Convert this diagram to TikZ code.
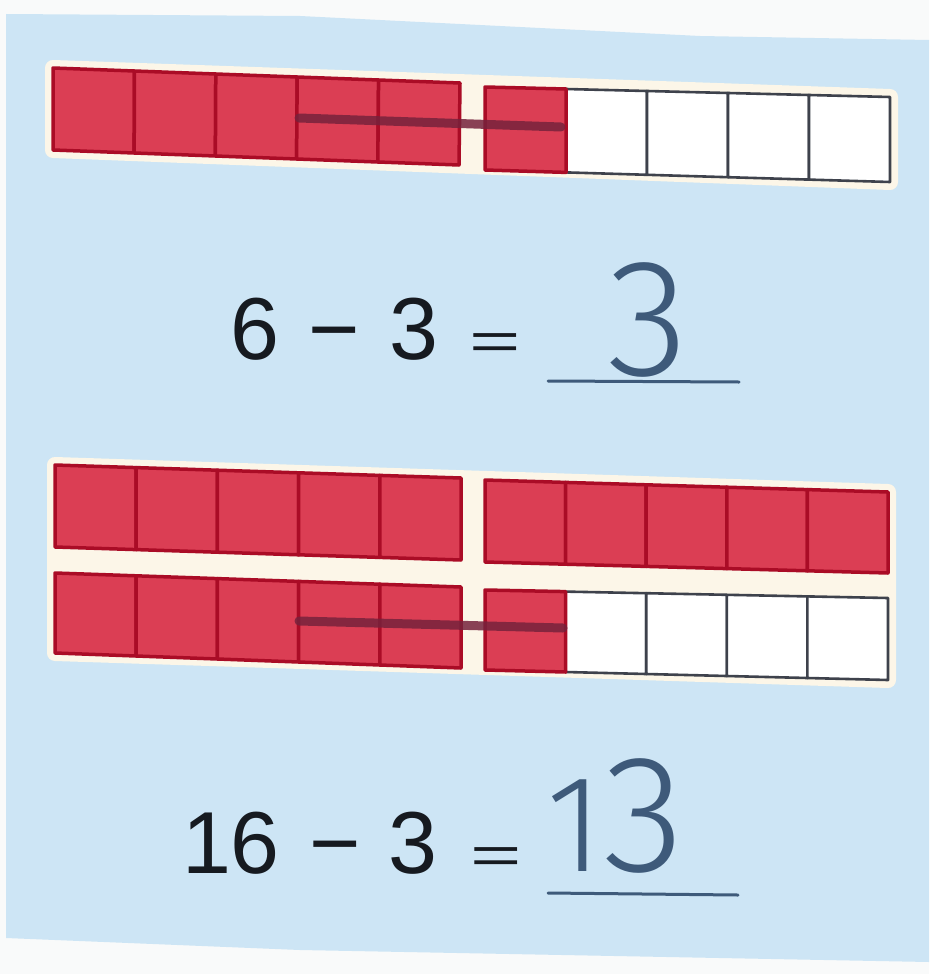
\documentclass[tikz,border=0pt]{standalone}
\usepackage{fontspec}
\setmainfont{Liberation Sans}
\newfontfamily\handfont{Fira Sans Light}
\usetikzlibrary{calc}
\definecolor{bgblue}{RGB}{205,229,245}
\definecolor{paper}{RGB}{249,250,250}
\definecolor{cream}{RGB}{252,246,232}
\definecolor{cellred}{RGB}{219,62,84}
\definecolor{edgered}{RGB}{170,12,38}
\definecolor{edgegray}{RGB}{62,66,76}
\definecolor{strikec}{RGB}{118,34,60}
\definecolor{ink}{RGB}{22,26,32}
\definecolor{pen}{RGB}{62,90,122}
\newcommand{\prfont}{\fontsize{88}{96}\selectfont}
\newcommand{\hwfont}{\handfont\fontsize{167}{170}\selectfont}
\newcommand{\cellblock}[5]{%
  \foreach \i/\s in {#5}{%
    \pgfmathsetmacro{\ta}{\i/5}\pgfmathsetmacro{\tb}{(\i+1)/5}%
    \draw[\s] ($(#1)!\ta!(#2)$) -- ($(#1)!\tb!(#2)$) -- ($(#4)!\tb!(#3)$) -- ($(#4)!\ta!(#3)$) -- cycle;
  }}
\tikzset{
  redcell/.style={fill=cellred, draw=edgered, line width=3.5pt, line join=round},
  whitecell/.style={fill=white, draw=edgegray, line width=2.6pt, line join=round},
  halo/.style={fill=cream, draw=cream, line width=16pt, line join=round},
  strike/.style={draw=strikec, line width=9pt, line cap=round, opacity=0.85},
  pr/.style={font=\prfont, text=ink, inner sep=0pt, anchor=base},
  hw/.style={font=\hwfont, text=pen, inner sep=0pt, anchor=base},
  penline/.style={draw=pen, line width=3pt, line cap=round}
}
\begin{document}
\begin{tikzpicture}[x=1pt,y=-1pt]
\useasboundingbox (0,0) rectangle (929,974);
% photo background
\fill[paper] (0,0) rectangle (929,974);
\fill[bgblue] (6,14) -- (300,16) -- (700,36) -- (929,40) -- (929,962) -- (300,950) -- (6,938) -- cycle;

% corners of the blocks
\coordinate (A1) at (53,68);   \coordinate (A2) at (460,83);  \coordinate (A3) at (459,165); \coordinate (A4) at (53,150);
\coordinate (B1) at (485,87);  \coordinate (B2) at (890,97);  \coordinate (B3) at (890,182); \coordinate (B4) at (485,170);
\coordinate (C1) at (55,465);  \coordinate (C2) at (461,478); \coordinate (C3) at (461,560); \coordinate (C4) at (55,547);
\coordinate (D1) at (485,480); \coordinate (D2) at (888,492); \coordinate (D3) at (888,573); \coordinate (D4) at (485,562);
\coordinate (E1) at (55,573);  \coordinate (E2) at (461,587); \coordinate (E3) at (461,668); \coordinate (E4) at (55,653);
\coordinate (F1) at (485,590); \coordinate (F2) at (888,598); \coordinate (F3) at (888,680); \coordinate (F4) at (485,670);

% cream halos
\path[halo] (A1) -- (B2) -- (B3) -- (A4) -- cycle;
\path[halo] (C1) -- (D2) -- (F3) -- (E4) -- cycle;

% cells
\cellblock{A1}{A2}{A3}{A4}{0/redcell,1/redcell,2/redcell,3/redcell,4/redcell}
\cellblock{B1}{B2}{B3}{B4}{1/whitecell,2/whitecell,3/whitecell,4/whitecell,0/redcell}
\cellblock{C1}{C2}{C3}{C4}{0/redcell,1/redcell,2/redcell,3/redcell,4/redcell}
\cellblock{D1}{D2}{D3}{D4}{0/redcell,1/redcell,2/redcell,3/redcell,4/redcell}
\cellblock{E1}{E2}{E3}{E4}{0/redcell,1/redcell,2/redcell,3/redcell,4/redcell}
\cellblock{F1}{F2}{F3}{F4}{1/whitecell,2/whitecell,3/whitecell,4/whitecell,0/redcell}

% crossing-out strokes
\coordinate (s1a) at (299,118); \coordinate (s1b) at (561,127);
\coordinate (s2a) at (299,621); \coordinate (s2b) at (563,628);
\draw[strike] (s1a) -- (s1b);
\draw[strike] (s2a) -- (s2b);

% equation 1
\node[pr] (q1a) at (255,359) {6};
\node[pr] (q1b) at (334,359) {−};
\node[pr] (q1c) at (414,359) {3};
\node[pr, yscale=0.6] (q1d) at (495,359) {=};
\node[hw] (h1) at (648,375) {3};
\coordinate (u1a) at (548,381); \coordinate (u1b) at (739,382);
\draw[penline] (u1a) -- (u1b);

% equation 2
\node[pr] (q2a) at (207,873) {1};
\node[pr] (q2b) at (255,873) {6};
\node[pr] (q2c) at (335,873) {−};
\node[pr] (q2d) at (413,873) {3};
\node[pr, yscale=0.6] (q2e) at (496,873) {=};
\node[hw] (h2) at (616,871) {{\fontsize{138}{140}\selectfont 1}3};
\coordinate (u2a) at (548,893); \coordinate (u2b) at (738,895);
\draw[penline] (u2a) -- (u2b);
\end{tikzpicture}
\end{document}
